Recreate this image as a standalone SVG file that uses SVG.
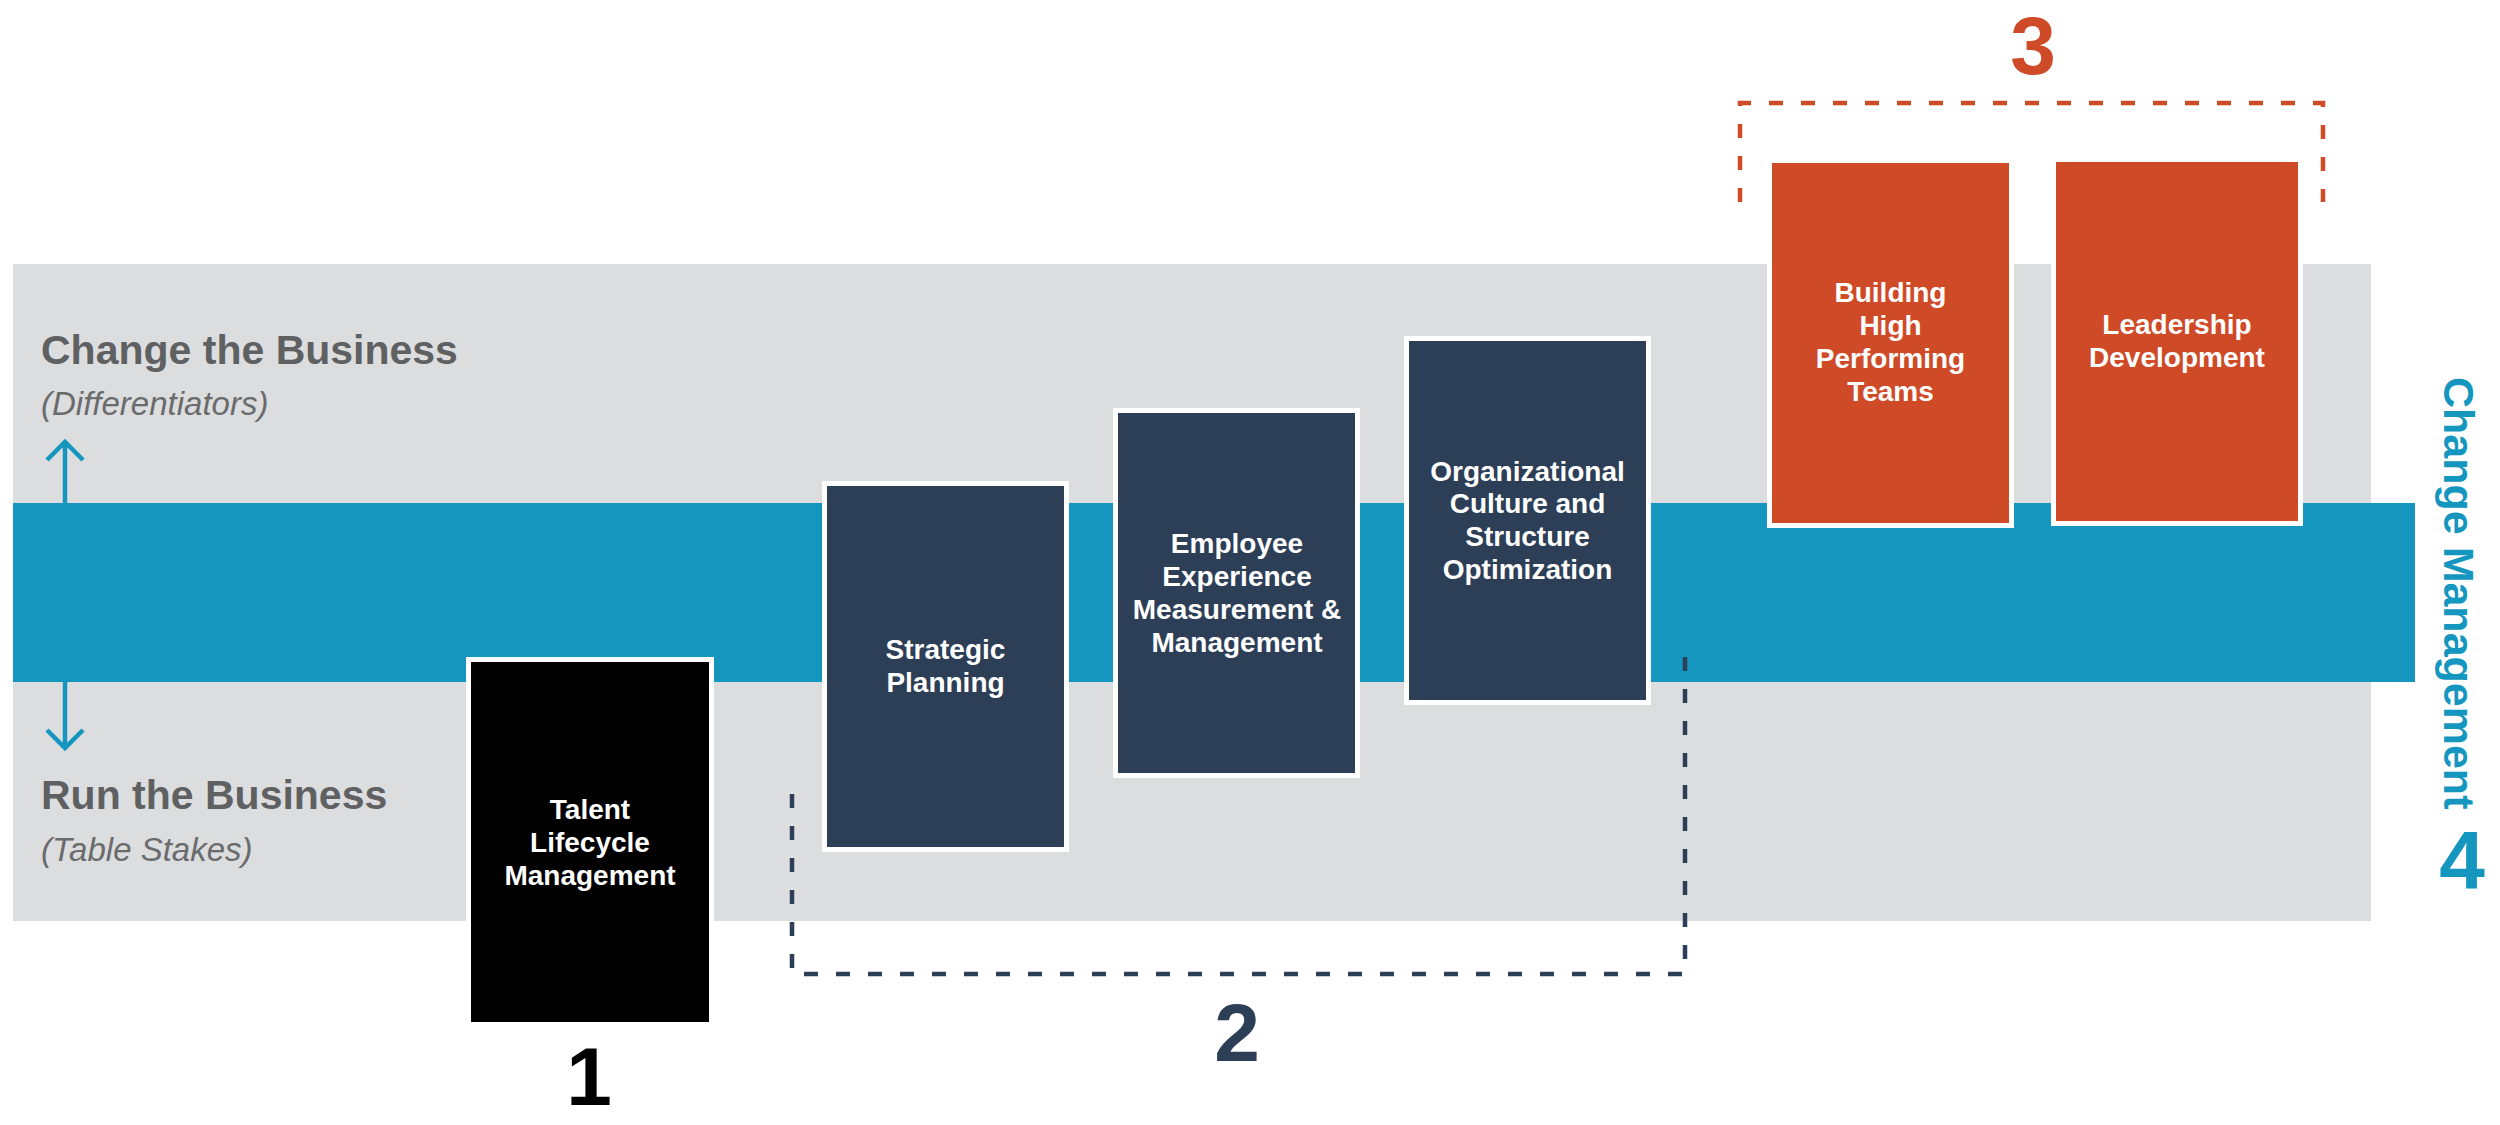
<svg xmlns="http://www.w3.org/2000/svg" width="2500" height="1125" viewBox="0 0 2500 1125">
  <style>
    .lbl { font-family: "Liberation Sans", Arial, sans-serif; font-weight: bold; font-size: 28px; fill: #ffffff; text-anchor: middle; }
    .head { font-family: "Liberation Sans", Arial, sans-serif; font-weight: bold; font-size: 41px; fill: #5f6062; }
    .sub { font-family: "Liberation Sans", Arial, sans-serif; font-style: italic; font-size: 33px; fill: #6a6b6d; }
    .num { font-family: "Liberation Sans", Arial, sans-serif; font-weight: bold; font-size: 82px; text-anchor: middle; }
    .box { stroke: #ffffff; stroke-width: 5; }
    .navy { fill: #2d3e57; }
    .orange { fill: #cf4a26; }
    .arrow { fill: none; stroke: #1496bf; stroke-width: 4.5; stroke-linecap: butt; }
    .dash { fill: none; stroke-width: 4.5; stroke-dasharray: 14 18; }
  </style>

  <g id="background">
    <rect x="13" y="264" width="2358" height="657" fill="#dcdddf"/>
    <rect x="13" y="503" width="2402" height="179" fill="#1496bf"/>
  </g>

  <g id="labels-left">
    <text class="head" x="41" y="364">Change the Business</text>
    <text class="sub" x="41" y="415">(Differentiators)</text>
    <text class="head" x="41" y="809">Run the Business</text>
    <text class="sub" x="41" y="861">(Table Stakes)</text>
  </g>

  <g id="connectors">
    <path class="arrow" d="M65 503 V441 M47 460 L65 442 L83 460"/>
    <path class="arrow" d="M65 682 V748 M47 730 L65 748 L83 730"/>
    <path class="dash" stroke="#2d3e57" d="M792 794 V974 H1685 V649"/>
    <path class="dash" stroke="#cf4a26" d="M1740 202 V103 H2323 V202"/>
  </g>

  <g id="node-talent">
    <rect class="box" x="468.5" y="659.5" width="243" height="365" fill="#000000"/>
    <text class="lbl" x="590" y="819">Talent</text>
    <text class="lbl" x="590" y="852">Lifecycle</text>
    <text class="lbl" x="590" y="885">Management</text>
  </g>

  <g id="node-strategic">
    <rect class="box navy" x="824.5" y="483.5" width="242" height="366"/>
    <text class="lbl" x="945.5" y="659">Strategic</text>
    <text class="lbl" x="945.5" y="692">Planning</text>
  </g>

  <g id="node-employee">
    <rect class="box navy" x="1115.5" y="410.5" width="242" height="365"/>
    <text class="lbl" x="1237" y="553">Employee</text>
    <text class="lbl" x="1237" y="586">Experience</text>
    <text class="lbl" x="1237" y="619">Measurement &amp;</text>
    <text class="lbl" x="1237" y="652">Management</text>
  </g>

  <g id="node-org">
    <rect class="box navy" x="1406.5" y="338.5" width="242" height="364"/>
    <text class="lbl" x="1527.5" y="481">Organizational</text>
    <text class="lbl" x="1527.5" y="513">Culture and</text>
    <text class="lbl" x="1527.5" y="546">Structure</text>
    <text class="lbl" x="1527.5" y="579">Optimization</text>
  </g>

  <g id="node-building">
    <rect class="box orange" x="1769.5" y="160.5" width="242" height="365"/>
    <text class="lbl" x="1890.5" y="302">Building</text>
    <text class="lbl" x="1890.5" y="335">High</text>
    <text class="lbl" x="1890.5" y="368">Performing</text>
    <text class="lbl" x="1890.5" y="401">Teams</text>
  </g>

  <g id="node-leadership">
    <rect class="box orange" x="2053.5" y="159.5" width="247" height="364"/>
    <text class="lbl" x="2177" y="334">Leadership</text>
    <text class="lbl" x="2177" y="367">Development</text>
  </g>

  <g id="numbers">
    <text class="num" x="589" y="1105" fill="#000000">1</text>
    <text class="num" x="1237" y="1061" fill="#2d3e57">2</text>
    <text class="num" x="2033" y="74" fill="#cf4a26">3</text>
    <text class="num" x="2462" y="888" fill="#1496bf">4</text>
  </g>

  <g id="change-management">
    <text x="2444" y="377" transform="rotate(90 2444 377)" font-family="'Liberation Sans', Arial, sans-serif" font-weight="bold" font-size="43" fill="#1496bf">Change Management</text>
  </g>
</svg>
